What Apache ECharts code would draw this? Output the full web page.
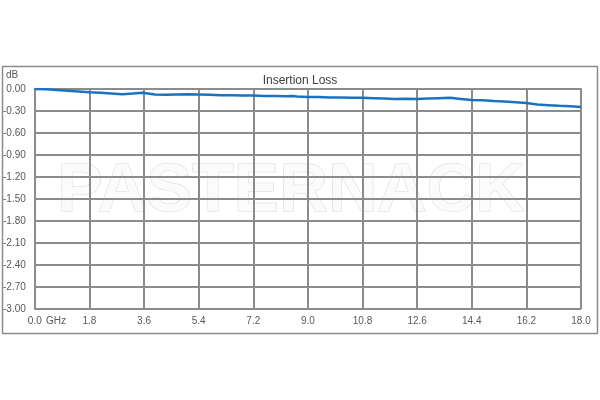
<!DOCTYPE html>
<html>
<head>
<meta charset="utf-8">
<script src="https://cdn.jsdelivr.net/npm/echarts@6/dist/echarts.min.js"></script>
<style>html,body{margin:0;padding:0;background:#fff;}#c{width:600px;height:400px;}</style>
</head>
<body>
<div id="c"></div>
<script>
var chartTitle = 'Insertion Loss';
var yUnit = 'dB';
var xUnit = 'GHz';
var watermark = 'PASTERNACK';
var freqGHz = [0, 0.36, 0.72, 1.08, 1.44, 1.8, 2.16, 2.52, 2.88, 3.24, 3.55, 3.6, 3.96, 4.32, 4.68, 5.04, 5.4, 5.76, 6.12, 6.48, 6.84, 7.2, 7.56, 7.92, 8.28, 8.5, 8.64, 9.0, 9.36, 9.72, 10.08, 10.44, 10.8, 11.16, 11.52, 11.88, 12.24, 12.6, 12.96, 13.32, 13.68, 14.04, 14.4, 14.76, 15.12, 15.48, 15.84, 16.2, 16.56, 16.92, 17.28, 17.64, 18.0];
var lossDB = [0.00, -0.005, -0.015, -0.025, -0.035, -0.045, -0.052, -0.060, -0.072, -0.062, -0.050, -0.060, -0.075, -0.080, -0.075, -0.072, -0.075, -0.080, -0.085, -0.086, -0.090, -0.090, -0.095, -0.096, -0.100, -0.094, -0.102, -0.110, -0.110, -0.115, -0.116, -0.120, -0.121, -0.125, -0.130, -0.135, -0.134, -0.135, -0.130, -0.125, -0.120, -0.135, -0.150, -0.155, -0.165, -0.170, -0.180, -0.190, -0.210, -0.220, -0.230, -0.235, -0.245];

var chart = echarts.init(document.getElementById('c'), null, {renderer: 'canvas'});
var gridColor = '#8c8c8c';
var data = freqGHz.map(function (f, i) { return [f, lossDB[i]]; });
chart.setOption({
  animation: false,
  backgroundColor: '#fff',
  title: {
    text: chartTitle, left: 'center', top: 70,
    textStyle: {fontFamily: 'Liberation Sans', fontSize: 12, fontWeight: 'normal', color: '#404040'}
  },
  grid: {left: 34, right: 19, top: 89, bottom: 91},
  xAxis: {
    type: 'value', min: 0, max: 18, interval: 1.8,
    axisLine: {show: true, lineStyle: {color: gridColor, width: 2}},
    axisTick: {show: false},
    splitLine: {show: true, lineStyle: {color: gridColor, width: 2}},
    axisLabel: {
      margin: 7, fontFamily: 'Liberation Sans', fontSize: 10, color: '#595959',
      formatter: function (v) { return v.toFixed(1); }
    }
  },
  yAxis: {
    type: 'value', min: -3, max: 0, interval: 0.3,
    axisLine: {show: true, lineStyle: {color: gridColor, width: 2}},
    axisTick: {show: false},
    splitLine: {show: true, lineStyle: {color: gridColor, width: 2}},
    axisLabel: {
      margin: 9, fontFamily: 'Liberation Sans', fontSize: 10, color: '#595959',
      formatter: function (v) { return v.toFixed(2); }
    }
  },
  graphic: [
    {type: 'rect', z: -20, shape: {x: 2.5, y: 66.5, width: 595, height: 267}, style: {fill: 'none', stroke: '#8c8c8c', lineWidth: 1.5}},
    {type: 'text', z: -10, x: 291, y: 192, style: {text: watermark, font: 'bold 68px "Liberation Sans"', fill: '#fbfbfb', stroke: '#d6d6d6', lineWidth: 1, textAlign: 'center', textVerticalAlign: 'middle'}},
    {type: 'text', x: 6, y: 70, style: {text: yUnit, font: '10px "Liberation Sans"', fill: '#595959'}},
    {type: 'text', x: 46, y: 316, style: {text: xUnit, font: '10px "Liberation Sans"', fill: '#595959'}}
  ],
  series: [{
    type: 'line', data: data, showSymbol: false, smooth: false,
    lineStyle: {color: '#1a73c0', width: 2.5}, z: 5
  }]
});
</script>
</body>
</html>
